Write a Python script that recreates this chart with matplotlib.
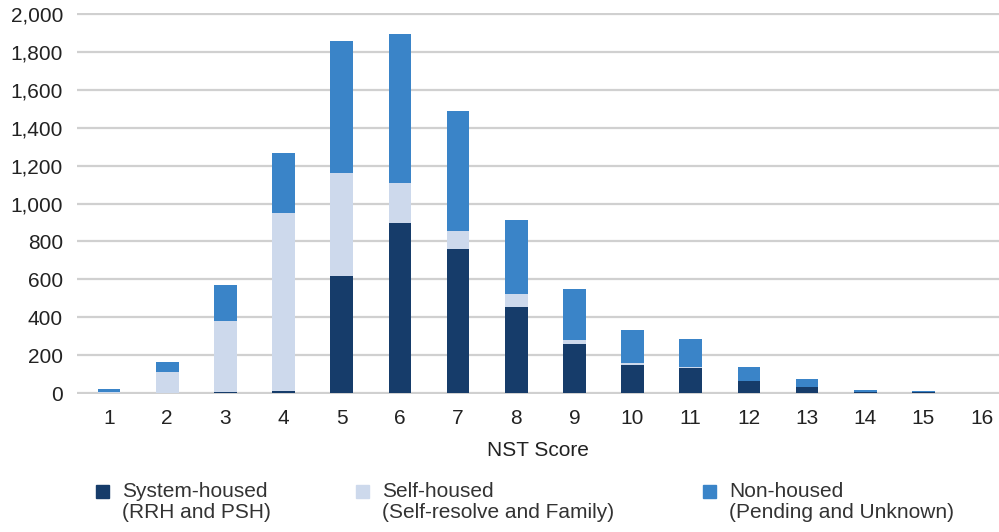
import numpy as np
import matplotlib
matplotlib.use("Agg")
import matplotlib.pyplot as plt
from matplotlib.patches import Rectangle

plt.rcParams["font.family"] = ["Liberation Sans", "DejaVu Sans"]

# NST score bins and counts per outcome
scores = [str(i) for i in range(1, 17)]
system_housed = [0, 0, 3, 12, 617, 895, 759, 455, 258, 146, 130, 62, 33, 6, 4, 0]
self_housed = [8, 112, 378, 936, 542, 214, 97, 65, 20, 14, 7, 2, 0, 0, 0, 0]
non_housed = [12, 53, 189, 319, 698, 784, 633, 392, 269, 174, 148, 75, 39, 10, 6, 0]

series_names = ["System-housed\n(RRH and PSH)",
                "Self-housed\n(Self-resolve and Family)",
                "Non-housed\n(Pending and Unknown)"]
colors = ["#163c6a", "#cdd9ec", "#3a84c8"]

fig = plt.figure(figsize=(9.99, 5.32), dpi=100)
W, H = 999, 532
ax = fig.add_axes([77 / W, 1 - 394 / H, 1 - 77 / W, (394 - 13) / H])

x = np.arange(1, len(scores) + 1)
bottom = np.zeros(len(scores))
for vals, c in zip([system_housed, self_housed, non_housed], colors):
    ax.bar(x, vals, width=0.39, bottom=bottom, color=c, zorder=3)
    bottom += np.array(vals)

ax.set_xlim(0.45, 16.3)
ax.set_ylim(-5, 2005)
ax.set_yticks(range(0, 2001, 200))
ax.set_yticklabels([f"{v:,}" for v in range(0, 2001, 200)])
ax.set_xticks(x)
ax.set_xticklabels(scores)
ax.grid(axis="y", color="#d0d0d0", linewidth=1.6, zorder=0)
for s in ax.spines.values():
    s.set_visible(False)
ax.tick_params(axis="both", length=0, labelsize=15, colors="#222222")
ax.tick_params(axis="y", pad=10)
ax.tick_params(axis="x", pad=11)
ax.set_xlabel("NST Score", fontsize=15, color="#222222", labelpad=9)

# legend drawn by hand: square on the first line of a two-line label
legend_x = [96, 356, 703]
for lx, name, c in zip(legend_x, series_names, colors):
    fig.add_artist(Rectangle((lx / W, 1 - 498 / H), 13 / W, 13 / H,
                             transform=fig.transFigure, color=c))
    fig.text((lx + 26) / W, 1 - 482 / H, name, fontsize=15, color="#333333",
             va="top", ha="left", linespacing=1.12)

fig.savefig("out.png", dpi=100)
